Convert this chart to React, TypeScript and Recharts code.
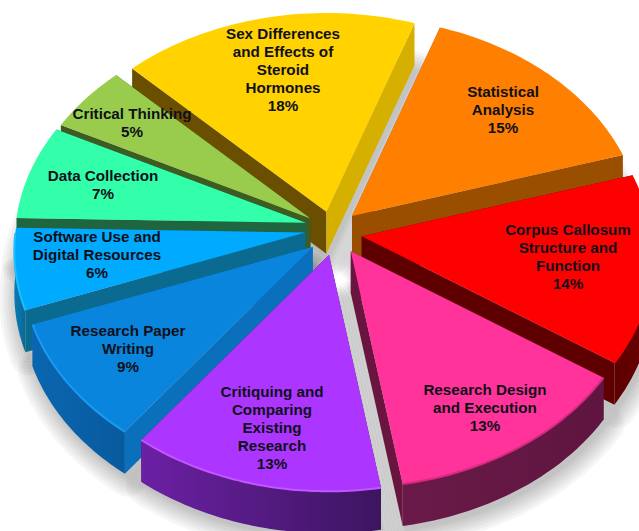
import { PieChart, Pie } from 'recharts';

// Share of each topic, clockwise from the top-left edge of the first slice
const categories = [
  'Sex Differences and Effects of Steroid Hormones',
  'Statistical Analysis',
  'Corpus Callosum Structure and Function',
  'Research Design and Execution',
  'Critiquing and Comparing Existing Research',
  'Research Paper Writing',
  'Software Use and Digital Resources',
  'Data Collection',
  'Critical Thinking',
];
const shares = [18, 15, 14, 13, 13, 9, 6, 7, 5];

const labelLines = [
  ['Sex Differences', 'and Effects of', 'Steroid', 'Hormones'],
  ['Statistical', 'Analysis'],
  ['Corpus Callosum', 'Structure and', 'Function'],
  ['Research Design', 'and Execution'],
  ['Critiquing and', 'Comparing', 'Existing', 'Research'],
  ['Research Paper', 'Writing'],
  ['Software Use and', 'Digital Resources'],
  ['Data Collection'],
  ['Critical Thinking'],
];

const topColors = ['#ffd200', '#ff7f00', '#ff0000', '#ff3399', '#ac36ff', '#0a85dd', '#00aaff', '#33ffaa', '#99cc4d'];
const rimColors = ['#ffd200', '#ff7f00', '#ff0000', '#d82a80', '#c455ff', '#1a9bf0', '#1ac0ff', '#33ffaa', '#99cc4d'];
const startWallColors = ['#6b4f00', '#a05000', '#5e0000', '#6a1540', '#42155f', '#0b70bb', '#0a6a90', '#1f6640', '#3d5c22'];
const endWallColors = ['#d6b000', '#9a4f00', '#5e0000', '#6a1540', '#42155f', '#0b70bb', '#0a6a90', '#1f6640', '#3d5c22'];
const outerWallFrom = ['#b89400', '#a05000', '#5e0000', '#6a1a48', '#6c20a4', '#0a66b0', '#0a7ab8', '#1f6640', '#3d5c22'];
const outerWallTo = ['#b89400', '#a05000', '#6a0000', '#5f1540', '#3c1560', '#085a9e', '#0a6a90', '#1f6640', '#3d5c22'];

// Back slices first, so nearer slices cover the walls behind them
const paintOrder = [0, 8, 7, 6, 5, 1, 2, 3, 4];

// Stroke widths of the stacked layers that make the soft edge of the shadow
const shadowSpread = [36, 30, 24, 18, 12, 6, 1];

// Small hand adjustments to how far each slice is pulled out
const sliceNudges = [
  [0, 0],
  [-2, -2],
  [0, 0],
  [2, 0],
  [3, 1],
  [3, 1],
  [1, -4],
  [1, -5],
  [1, -2],
];

const labelCenters = [
  [283, 34],
  [503, 92],
  [568, 230],
  [485, 390],
  [272, 392],
  [128, 331],
  [97, 237],
  [103, 176],
  [132, 114],
];

const slices = categories.map((name, i) => ({ name, value: shares[i], fill: topColors[i] }));

const WIDTH = 639;
const HEIGHT = 531;
const TILT = 0.75; // vertical squash of the pie plane
const PERSPECTIVE = 0.086; // near edge drawn larger than the far edge
const EXPLODE = 29;
const DEPTH = 42;
const LINE_HEIGHT = 18;

type Point = [number, number];

const RAD = Math.PI / 180;

// Maps a Recharts polar angle onto the tilted plane
function project(radius: number, angle: number): Point {
  const u = Math.cos(angle * RAD);
  const v = -Math.sin(angle * RAD);
  const scale = 1 + PERSPECTIVE * v;
  return [radius * u * scale, radius * TILT * v * scale];
}

const toLine = (pts: Point[]) =>
  'M' + pts.map(([x, y]) => `${x.toFixed(1)},${y.toFixed(1)}`).join('L');

const toPath = (pts: Point[]) => toLine(pts) + 'Z';

const lowered = (pts: Point[]): Point[] => pts.map(([x, y]) => [x, y + DEPTH]);

function sliceGeometry(props: any) {
  const { cx, cy, outerRadius, startAngle, endAngle, midAngle } = props;
  const i = categories.indexOf(props.name);
  const mid = midAngle ?? (startAngle + endAngle) / 2;
  const apex: Point = [
    cx + EXPLODE * Math.cos(mid * RAD) + sliceNudges[i][0],
    cy - EXPLODE * TILT * Math.sin(mid * RAD) + sliceNudges[i][1],
  ];
  const arc: Point[] = [];
  const front: Point[] = []; // the part of the rim that faces the viewer
  const steps = 48;
  for (let s = 0; s <= steps; s++) {
    const a = startAngle + ((endAngle - startAngle) * s) / steps;
    const [dx, dy] = project(outerRadius, a);
    const pt: Point = [apex[0] + dx, apex[1] + dy];
    arc.push(pt);
    if (dy >= 0) front.push(pt);
  }
  return { apex, arc, front };
}

// Grey cast under a slice, built from stacked translucent outlines
function SliceShadow(props: any) {
  const { apex, arc } = sliceGeometry(props);
  const outline = toPath([...lowered([apex]), ...lowered(arc)]);
  return (
    <g transform="translate(3 5)">
      {shadowSpread.map((w) => (
        <path
          key={w}
          d={outline}
          fill="#000"
          stroke="#000"
          strokeWidth={w}
          strokeLinejoin="round"
          opacity={0.032}
        />
      ))}
    </g>
  );
}

function Slice3D(props: any) {
  const { apex, arc, front } = sliceGeometry(props);
  const i = categories.indexOf(props.name);
  const first = arc[0];
  const last = arc[arc.length - 1];
  return (
    <g>
      <path d={toPath([apex, first, ...lowered([first, apex])])} fill={startWallColors[i]} />
      <path d={toPath([apex, last, ...lowered([last, apex])])} fill={endWallColors[i]} />
      {front.length > 1 && (
        <path d={toPath([...front, ...lowered(front).reverse()])} fill={`url(#outer-wall-${i})`} />
      )}
      <path d={toPath([apex, ...arc])} fill={topColors[i]} />
      {front.length > 1 && <path d={toLine(front)} fill="none" stroke={rimColors[i]} strokeWidth={2} />}
    </g>
  );
}

function renderLabel(props: any) {
  const i = categories.indexOf(props.name);
  const [x, y] = labelCenters[i];
  const lines = [...labelLines[i], `${shares[i]}%`];
  return (
    <text
      key={i}
      x={x}
      y={y}
      textAnchor="middle"
      fontFamily="'Liberation Sans', Arial, sans-serif"
      fontWeight={700}
      fontSize={15.2}
      fill="#10101a"
    >
      {lines.map((line, n) => (
        <tspan key={n} x={x} y={y + n * LINE_HEIGHT} dy="0.35em">
          {line}
        </tspan>
      ))}
    </text>
  );
}

const pieProps = {
  data: slices,
  dataKey: 'value',
  nameKey: 'name',
  cx: 333,
  cy: 233,
  outerRadius: 290,
  startAngle: 135.5,
  endAngle: -224.5,
  stroke: 'none',
  isAnimationActive: false,
  rootTabIndex: -1,
};

export default function App() {
  return (
    <div style={{ position: 'absolute', left: 0, top: 0, width: WIDTH, height: HEIGHT, overflow: 'hidden', background: '#fff' }}>
      <PieChart width={WIDTH} height={HEIGHT} margin={{ top: 0, right: 0, bottom: 0, left: 0 }}>
        <defs>
          {categories.map((_, i) => (
            <linearGradient key={i} id={`outer-wall-${i}`} x1="0" y1="0" x2="1" y2="0">
              <stop offset="0%" stopColor={outerWallFrom[i]} />
              <stop offset="100%" stopColor={outerWallTo[i]} />
            </linearGradient>
          ))}
        </defs>
        <Pie {...pieProps} shape={(props: any) => <SliceShadow {...props} />} />
        {paintOrder.map((index) => (
          <Pie
            key={index}
            {...pieProps}
            shape={(props: any) =>
              props.name === categories[index] ? <Slice3D {...props} /> : <g />
            }
          />
        ))}
        <Pie {...pieProps} shape={() => <g />} label={renderLabel} labelLine={false} />
      </PieChart>
    </div>
  );
}
